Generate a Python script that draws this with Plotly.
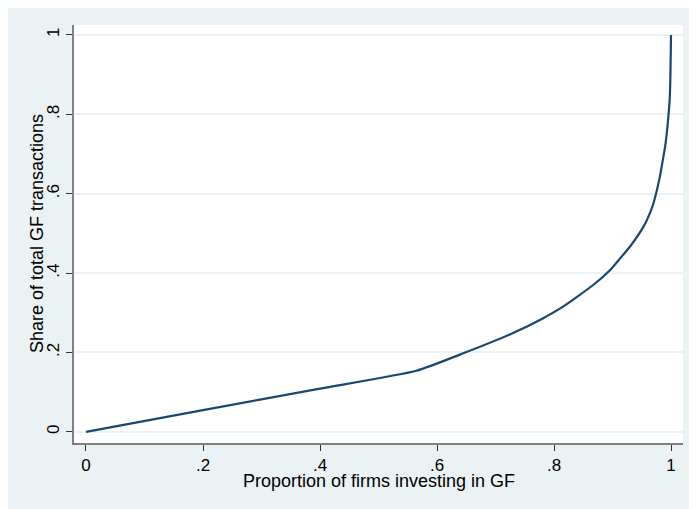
import plotly.graph_objects as go

# Lorenz-style concentration curve
share_firms = [0, 0.2, 0.4, 0.565, 0.645, 0.73, 0.78, 0.816, 0.867, 0.896,
               0.913, 0.93, 0.953, 0.964, 0.97, 0.976, 0.981, 0.986, 0.99,
               0.995, 0.998, 0.999, 1.0]
share_trans = [0, 0.055, 0.109, 0.154, 0.198, 0.249, 0.285, 0.316, 0.370, 0.408,
               0.437, 0.467, 0.517, 0.551, 0.576, 0.610, 0.643, 0.685, 0.719,
               0.786, 0.845, 0.90, 1.0]

tick_vals = [0, 0.2, 0.4, 0.6, 0.8, 1]
tick_text = ["0", ".2", ".4", ".6", ".8", "1"]

x_title = "Proportion of firms investing in GF"
y_title = "Share of total GF transactions"

BG = "#EAF2F3"
LINE = "#1A476F"
FONT = "Liberation Sans, Arial, sans-serif"

fig = go.Figure(
    go.Scatter(
        x=share_firms,
        y=share_trans,
        mode="lines",
        line=dict(color=LINE, width=2.2, shape="spline", smoothing=0.5),
        hoverinfo="skip",
    )
)

axis_common = dict(
    tickvals=tick_vals,
    ticktext=tick_text,
    ticks="outside",
    ticklen=6,
    tickwidth=1,
    tickcolor="#333333",
    showline=True,
    linecolor="#808080",
    linewidth=2,
    zeroline=False,
    tickfont=dict(family=FONT, size=17, color="black"),
)

# the page adds an 8px body margin, so the figure is a bit smaller than the window
fig.update_layout(
    width=689,
    height=501,
    margin=dict(l=66, r=14, t=17, b=66),
    paper_bgcolor=BG,
    plot_bgcolor="white",
    showlegend=False,
    xaxis=dict(axis_common, range=[-0.0205, 1.0205], showgrid=False),
    yaxis=dict(
        axis_common,
        range=[-0.028, 1.025],
        showgrid=True,
        gridcolor=BG,
        gridwidth=1.5,
        tickangle=-90,
    ),
    font=dict(family=FONT, size=18, color="black"),
    annotations=[
        dict(
            text=x_title,
            xref="paper",
            yref="paper",
            x=0.5,
            y=0,
            yshift=-38,
            showarrow=False,
            xanchor="center",
            yanchor="middle",
            font=dict(family=FONT, size=18),
        ),
        dict(
            text=y_title,
            xref="paper",
            yref="paper",
            x=0,
            y=0.5,
            xshift=-37,
            showarrow=False,
            textangle=-90,
            xanchor="center",
            yanchor="middle",
            font=dict(family=FONT, size=18),
        ),
    ],
)

fig.write_html("out.html")
